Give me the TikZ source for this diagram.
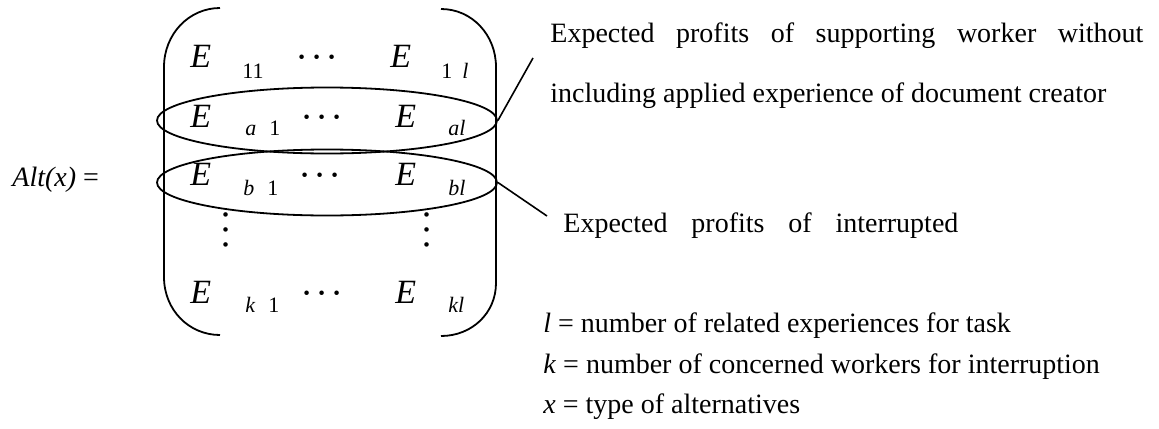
\documentclass[tikz,border=0pt]{standalone}
\usepackage{fontspec}
\setmainfont{Liberation Serif}
\usetikzlibrary{shapes.geometric}

\begin{document}
\begin{tikzpicture}[x=0.5pt,y=-0.5pt,
  txt/.style={anchor=base west,inner sep=0pt,font=\fontsize{14}{16}\selectfont},
  ent/.style={anchor=base west,inner sep=0pt,font=\fontsize{17}{19}\selectfont\itshape},
  idx/.style={anchor=base west,inner sep=0pt,font=\fontsize{11}{13}\selectfont},
  hdots/.style={anchor=base,inner sep=0pt,font=\fontsize{15}{15}\selectfont\boldmath},
  vdotsnode/.style={inner sep=0pt,rotate=90,font=\fontsize{14}{14}\selectfont\boldmath},
  bracket/.style={line width=0.9pt},
  ring/.style={draw,ellipse,line width=0.9pt,minimum width=170pt,minimum height=33pt,inner sep=0pt},
  link/.style={line width=0.8pt}]
  \useasboundingbox (0,0) rectangle (1159,428);
  \node[txt] (alt) at (12,186) {\textit{Alt(x)} =};
  \draw[bracket] (220,8) .. controls (189,8) and (164,34) .. (164,67) -- (164,277) .. controls (164,310) and (189,335) .. (220,335);
  \draw[bracket] (441,9) .. controls (472,9) and (496,35) .. (496,67) -- (496,283) .. controls (496,313) and (472,336) .. (441,336);
  \node[ent] (e11) at (190,67)  {E};
  \node[idx] (s11) at (242,78)  {11};
  \node[hdots] (d1) at (317,64) {$\cdots$};
  \node[ent] (e1l) at (390,67)  {E};
  \node[idx] (s1l) at (441,78)  {1\hspace{5pt}\textit{l}};
  \node[ent] (ea1) at (190,127) {E};
  \node[idx] (sa1) at (245,135) {\textit{a}\hspace{6.5pt}1};
  \node[hdots] (da) at (322,124) {$\cdots$};
  \node[ent] (eal) at (395,127) {E};
  \node[idx] (sal) at (448,135) {\textit{al}};
  \node[ent] (eb1) at (190,185) {E};
  \node[idx] (sb1) at (243,195) {\textit{b}\hspace{6.5pt}1};
  \node[hdots] (db) at (320,182) {$\cdots$};
  \node[ent] (ebl) at (395,185) {E};
  \node[idx] (sbl) at (448,195) {\textit{bl}};
  \node[vdotsnode] (vl) at (226,230) {$\cdots$};
  \node[vdotsnode] (vr) at (427,230) {$\cdots$};
  \node[ent] (ek1) at (190,303) {E};
  \node[idx] (sk1) at (245,312) {\textit{k}\hspace{6.5pt}1};
  \node[hdots] (dk) at (322,300) {$\cdots$};
  \node[ent] (ekl) at (395,303) {E};
  \node[idx] (skl) at (448,312) {\textit{kl}};
  \node[ring] (ringa) at (327,120.5) {};
  \node[ring] (ringb) at (327,182.5) {};
  \coordinate (tipa) at (533,58);
  \coordinate (tipb) at (547,216);
  \draw[link] (ringa.east) -- (tipa);
  \draw[link] (ringb.east) -- (tipb);
  \node[txt] (gain1) at (550,42)  {\makebox[296.5pt][s]{Expected profits of supporting worker without}};
  \node[txt] (gain2) at (550,102) {including applied experience of document creator};
  \node[txt] (loss)  at (563,232) {\makebox[197.5pt][s]{Expected profits of interrupted}};
  \node[txt] (defl)  at (543,332) {\textit{l} = number of related experiences for task};
  \node[txt] (defk)  at (543,373) {\textit{k} = number of concerned workers for interruption};
  \node[txt] (defx)  at (543,413) {\textit{x} = type of alternatives};
\end{tikzpicture}
\end{document}
